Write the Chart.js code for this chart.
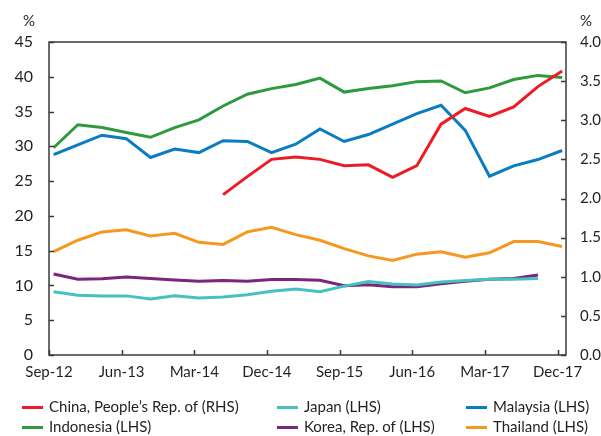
<!DOCTYPE html>
<html>
<head>
<meta charset="utf-8">
<script src="https://cdn.jsdelivr.net/npm/chart.js@4.4.1/dist/chart.umd.min.js"></script>
<style>
  html, body { margin: 0; padding: 0; background: #fff; }
  #wrap { position: relative; width: 601px; height: 436px; font-family: Lato, sans-serif; color: #231f20; overflow: hidden; }
  #chart { position: absolute; left: 0; top: 0; }
  .legend-item { position: absolute; font-size: 15px; line-height: 18px; white-space: nowrap; transform: translateY(-50%); }
  .legend-item .swatch { display: inline-block; width: 21px; height: 3px; vertical-align: middle; margin-right: 6px; position: relative; top: -1px; }
</style>
</head>
<body>
<div id="wrap">
  <canvas id="chart" width="601" height="436"></canvas>
  <div id="legend"></div>
</div>
<script>
// Data (quarterly)
const quarters = ['Sep-12', 'Dec-12', 'Mar-13', 'Jun-13', 'Sep-13', 'Dec-13', 'Mar-14', 'Jun-14',
    'Sep-14', 'Dec-14', 'Mar-15', 'Jun-15', 'Sep-15', 'Dec-15', 'Mar-16', 'Jun-16',
    'Sep-16', 'Dec-16', 'Mar-17', 'Jun-17', 'Sep-17', 'Dec-17'];
const tickLabels = ['Sep-12', 'Jun-13', 'Mar-14', 'Dec-14', 'Sep-15', 'Jun-16', 'Mar-17', 'Dec-17'];
const leftTicks = [0, 5, 10, 15, 20, 25, 30, 35, 40, 45];
const rightTicks = [0, 0.5, 1, 1.5, 2, 2.5, 3, 3.5, 4];

const china = [null, null, null, null, null, null, null, 2.05, 2.28, 2.50, 2.53, 2.50, 2.42, 2.43,
    2.27, 2.42, 2.95, 3.15, 3.05, 3.17, 3.43, 3.63];
const indonesia = [29.8, 33.1, 32.7, 32.0, 31.3, 32.7, 33.8, 35.8, 37.5, 38.3, 38.9, 39.8, 37.8, 38.3,
    38.7, 39.3, 39.4, 37.7, 38.4, 39.6, 40.2, 39.9];
const japan = [9.1, 8.6, 8.5, 8.5, 8.05, 8.5, 8.2, 8.35, 8.65, 9.15, 9.5, 9.1, 9.9, 10.55,
    10.2, 10.05, 10.5, 10.7, 10.9, 10.9, 11.0];
const korea = [11.65, 10.9, 10.95, 11.2, 11.0, 10.8, 10.6, 10.7, 10.6, 10.85, 10.85, 10.75, 9.95, 10.1,
    9.8, 9.8, 10.25, 10.6, 10.9, 11.0, 11.5];
const malaysia = [28.8, 30.2, 31.6, 31.1, 28.4, 29.6, 29.1, 30.8, 30.7, 29.1, 30.3, 32.5, 30.7, 31.7,
    33.2, 34.7, 35.9, 32.3, 25.7, 27.2, 28.1, 29.4];
const thailand = [14.85, 16.5, 17.7, 18.0, 17.1, 17.5, 16.2, 15.9, 17.7, 18.35, 17.3, 16.5, 15.3, 14.25,
    13.6, 14.5, 14.85, 14.05, 14.7, 16.3, 16.3, 15.6];

const seriesNames = ['China, People\u2019s Rep. of (RHS)', 'Indonesia (LHS)', 'Japan (LHS)',
    'Korea, Rep. of (LHS)', 'Malaysia (LHS)', 'Thailand (LHS)'];
const seriesColors = ['#ed1c24', '#2e9a3e', '#45c1c0', '#7b2581', '#0a7cc1', '#f7971f'];

// Layout
const axisColor = '#3a3a3a';
const textColor = '#231f20';
const fontFamily = 'Lato, sans-serif';
const tickShift = -0.19; // month-start tick vs quarter point

function toPoints(values) {
    return values.map((v, i) => ({ x: i, y: v }));
}

function makeDataset(idx, values, axis) {
    return {
        label: seriesNames[idx],
        data: toPoints(values),
        yAxisID: axis,
        borderColor: seriesColors[idx],
        backgroundColor: seriesColors[idx],
        borderWidth: 3,
        pointRadius: 0,
        tension: 0,
        fill: false,
        spanGaps: false
    };
}

// Frame, inward tick marks and % units
const framePlugin = {
    id: 'frame',
    afterDraw(chart) {
        const { ctx, chartArea: a, scales } = chart;
        ctx.save();
        ctx.strokeStyle = axisColor;
        ctx.lineWidth = 1.5;
        ctx.strokeRect(a.left, a.top, a.right - a.left, a.bottom - a.top);
        ctx.beginPath();
        scales.y.ticks.forEach(t => {
            const y = Math.round(scales.y.getPixelForValue(t.value)) + 0.5;
            ctx.moveTo(a.left, y);
            ctx.lineTo(a.left + 5, y);
        });
        scales.y2.ticks.forEach(t => {
            const y = Math.round(scales.y2.getPixelForValue(t.value)) + 0.5;
            ctx.moveTo(a.right, y);
            ctx.lineTo(a.right - 5, y);
        });
        scales.x.ticks.forEach(t => {
            const x = Math.round(scales.x.getPixelForValue(t.value)) + 0.5;
            ctx.moveTo(x, a.bottom);
            ctx.lineTo(x, a.bottom - 5);
        });
        ctx.stroke();

        ctx.fillStyle = textColor;
        ctx.font = '15px ' + fontFamily;
        ctx.textAlign = 'center';
        ctx.textBaseline = 'middle';
        ctx.fillText('%', 29, 21);
        ctx.fillText('%', 586, 21);
        ctx.restore();
    }
};

const ctx = document.getElementById('chart').getContext('2d');
const chart = new Chart(ctx, {
    type: 'line',
    data: {
        datasets: [
            makeDataset(0, china, 'y2'),
            makeDataset(1, indonesia, 'y'),
            makeDataset(2, japan, 'y'),
            makeDataset(3, korea, 'y'),
            makeDataset(4, malaysia, 'y'),
            makeDataset(5, thailand, 'y')
        ]
    },
    options: {
        responsive: false,
        animation: false,
        layout: { padding: { top: 42, bottom: 51, left: 0, right: 0 } },
        plugins: {
            legend: { display: false },
            tooltip: { enabled: false }
        },
        scales: {
            x: {
                type: 'linear',
                min: -0.19,
                max: 21.16,
                grid: { display: false },
                border: { display: false },
                afterBuildTicks: (s) => {
                    s.ticks = tickLabels.map((l, k) => ({ value: 3 * k + tickShift }));
                },
                afterFit: (s) => { s.height = 30; },
                ticks: {
                    color: textColor,
                    font: { family: fontFamily, size: 15 },
                    padding: 0,
                    maxRotation: 0,
                    autoSkip: false,
                    callback: (v, i) => tickLabels[i]
                }
            },
            y: {
                position: 'left',
                min: 0,
                max: 45,
                grid: { display: false },
                border: { display: false },
                afterBuildTicks: (s) => { s.ticks = leftTicks.map(v => ({ value: v })); },
                afterFit: (s) => { s.width = 49; },
                ticks: {
                    color: textColor,
                    font: { family: fontFamily, size: 16 },
                    padding: 8
                }
            },
            y2: {
                position: 'right',
                min: 0,
                max: 4,
                grid: { display: false },
                border: { display: false },
                afterBuildTicks: (s) => { s.ticks = rightTicks.map(v => ({ value: v })); },
                afterFit: (s) => { s.width = 35; },
                ticks: {
                    color: textColor,
                    font: { family: fontFamily, size: 15 },
                    padding: 6,
                    callback: (v) => Number(v).toFixed(1)
                }
            }
        }
    },
    plugins: [framePlugin]
});

// HTML legend, two rows of three
const legendSpots = [
    { i: 0, x: 22, y: 406 }, { i: 2, x: 277, y: 406 }, { i: 4, x: 466, y: 406 },
    { i: 1, x: 22, y: 426 }, { i: 3, x: 277, y: 426 }, { i: 5, x: 466, y: 426 }
];
const legendEl = document.getElementById('legend');
legendSpots.forEach(spot => {
    const item = document.createElement('div');
    item.className = 'legend-item';
    item.style.left = spot.x + 'px';
    item.style.top = spot.y + 'px';
    item.innerHTML = `<span class="swatch" style="background:${seriesColors[spot.i]}"></span>${seriesNames[spot.i]}`;
    legendEl.appendChild(item);
});
</script>
</body>
</html>
